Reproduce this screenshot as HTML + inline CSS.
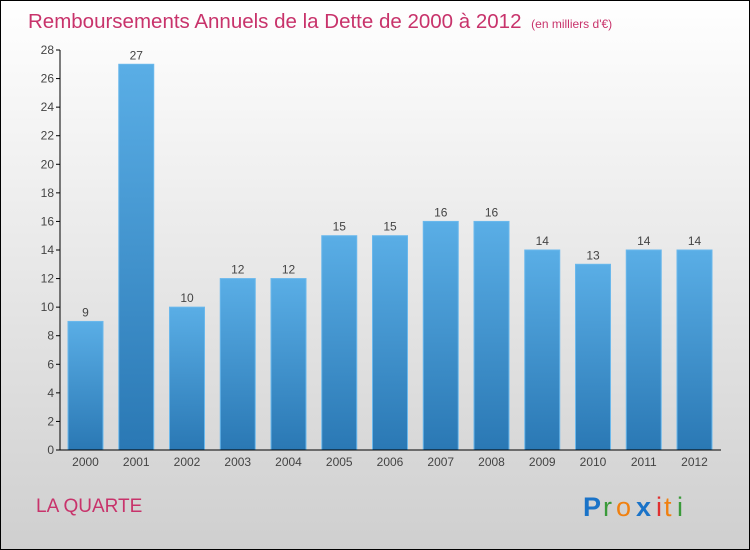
<!DOCTYPE html>
<html><head><meta charset="utf-8"><style>
body{margin:0}
svg{display:block;font-family:"Liberation Sans",sans-serif}
</style></head><body>
<svg id="c" width="750" height="550" xmlns="http://www.w3.org/2000/svg">
<defs>
<linearGradient id="bg" x1="0" y1="0" x2="0" y2="1"><stop offset="0" stop-color="#ffffff"/><stop offset="1" stop-color="#cfcfcf"/></linearGradient>
<linearGradient id="bar" x1="0" y1="0" x2="0" y2="1"><stop offset="0" stop-color="#5aaee6"/><stop offset="1" stop-color="#2a78b4"/></linearGradient>
</defs>
<rect x="0.5" y="0.5" width="749" height="549" fill="url(#bg)" stroke="#000"/>
<text x="28" y="28" font-size="20.5" fill="#c8336b">Remboursements Annuels de la Dette de 2000 à 2012 <tspan font-size="12" dx="4">(en milliers d'€)</tspan></text>
<g id="bars"></g>
<g id="axes"></g>
<text x="36" y="512" font-size="19" fill="#c8336b">LA QUARTE</text>
<g font-size="27">
<text x="583" y="516" fill="#1a73c8" font-weight="bold">P</text><text x="603" y="516" fill="#3a9a3a">r</text><text x="616" y="516" fill="#f08010">o</text><text x="636" y="516" fill="#1a73c8" font-weight="bold">x</text><text x="656" y="516" fill="#e03030">i</text><text x="664" y="516" fill="#f08010">t</text><text x="677" y="516" fill="#3a9a3a">i</text>
</g>
</svg>
<script>
const years=["2000","2001","2002","2003","2004","2005","2006","2007","2008","2009","2010","2011","2012"];
const values=[9,27,10,12,12,15,15,16,16,14,13,14,14];
const yTicks=[0,2,4,6,8,10,12,14,16,18,20,22,24,26,28];
const NS="http://www.w3.org/2000/svg";
const y0=450,yTop=50,yMax=28,x0=60,step=50.75,bw=35,firstX=68;
const y=v=>y0-(v/yMax)*(y0-yTop);
const x=i=>firstX+i*step;
function mk(t,a,p){const e=document.createElementNS(NS,t);for(const k in a)e.setAttribute(k,a[k]);p.appendChild(e);return e;}
const bars=document.getElementById('bars'),axes=document.getElementById('axes');
values.forEach((v,i)=>{
 const r=mk('rect',{x:x(i),y:y(v),width:bw,height:y0-y(v),fill:'url(#bar)',stroke:'#6ab8ec','stroke-width':1},bars);
 
 
 const t=mk('text',{x:x(i)+bw/2,y:y(v)-5,'font-size':12,'text-anchor':'middle',fill:'#444'},bars);
 t.textContent=v;
 
 
 const l=mk('text',{x:x(i)+bw/2,y:466,'font-size':12,'text-anchor':'middle',fill:'#444'},axes);
 l.textContent=years[i];
 
 
});
yTicks.forEach(v=>{
 mk('line',{x1:56,x2:x0,y1:y(v),y2:y(v),stroke:'#000'},axes);
 const t=mk('text',{x:54,y:y(v)+4,'font-size':12,'text-anchor':'end',fill:'#444'},axes);
 t.textContent=v;
 
 
});
const ya=mk('line',{x1:x0,x2:x0,y1:yTop,y2:y0,stroke:'#000'},axes);


const xa=mk('line',{x1:x0,x2:721,y1:y0,y2:y0,stroke:'#000'},axes);


</script>
</body></html>
